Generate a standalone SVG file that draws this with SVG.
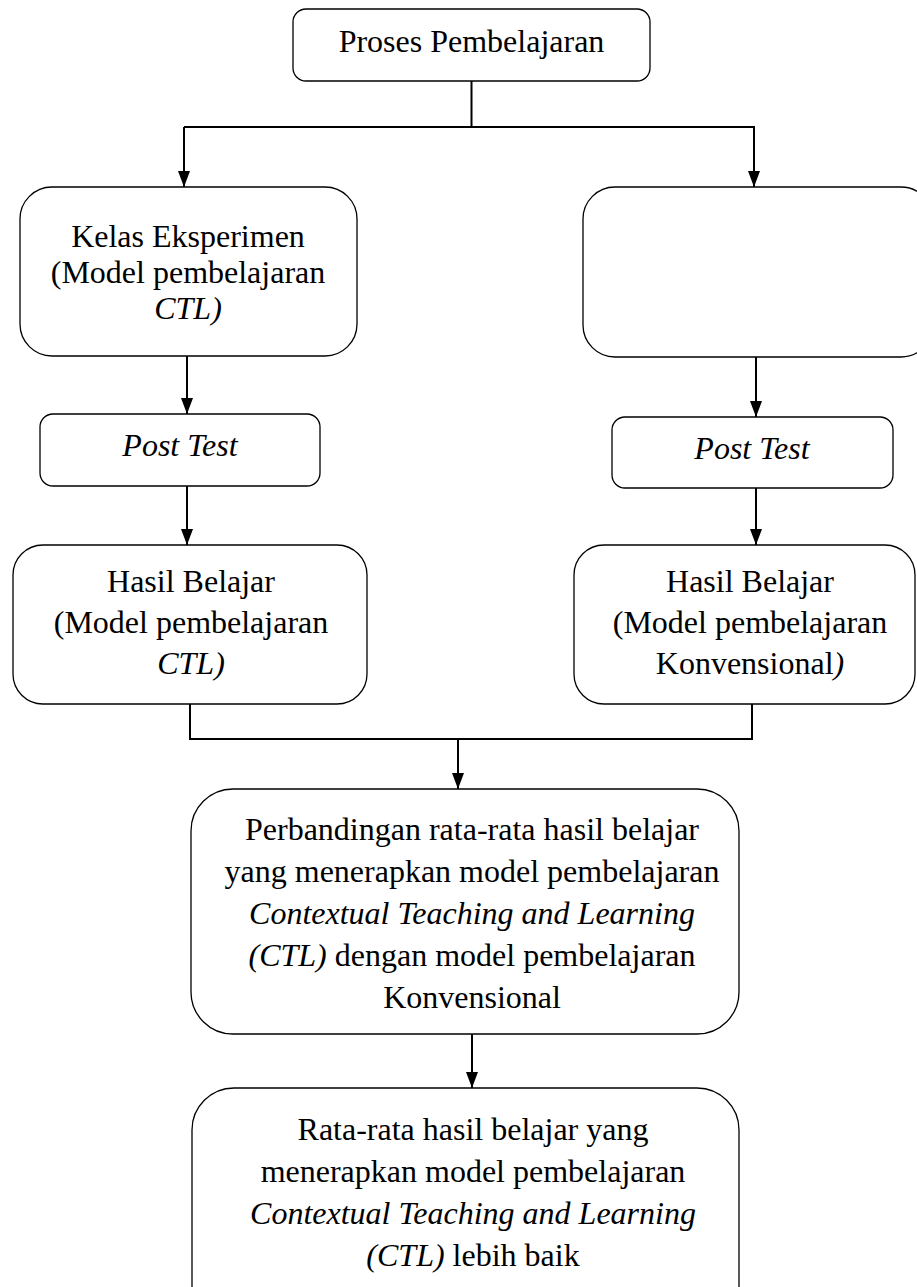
<svg xmlns="http://www.w3.org/2000/svg" width="917" height="1287" viewBox="0 0 917 1287">
<style>
.box{fill:#fff;stroke:#000;stroke-width:1.3}
.t{font-family:"Liberation Serif","Times New Roman",serif;font-size:32px;fill:#000;text-anchor:middle}
.i{font-style:italic}
.c{fill:none;stroke:#000;stroke-width:2}
</style>
<defs>
<marker id="ah" markerUnits="userSpaceOnUse" markerWidth="16" markerHeight="12" viewBox="0 0 16 12" refX="16" refY="6" orient="auto">
<path d="M0,0 L16,6 L0,12 z" fill="#000"/>
</marker>
</defs>
<rect width="917" height="1287" fill="#fff"/>
<g id="connectors">
<path class="c" d="M471.5,81 V127 M184,127 H755"/>
<path class="c" d="M184,127 V187" marker-end="url(#ah)"/>
<path class="c" d="M754,127 V187" marker-end="url(#ah)"/>
<path class="c" d="M187,356 V414" marker-end="url(#ah)"/>
<path class="c" d="M756,357 V417" marker-end="url(#ah)"/>
<path class="c" d="M187,486 V545" marker-end="url(#ah)"/>
<path class="c" d="M756,488 V545" marker-end="url(#ah)"/>
<path class="c" d="M190,704 V739 H752 V704"/>
<path class="c" d="M458,739 V789" marker-end="url(#ah)"/>
<path class="c" d="M472,1034 V1088" marker-end="url(#ah)"/>
</g>
<g id="proses">
<rect class="box" x="293" y="9" width="357" height="72" rx="13"/>
<text class="t" x="471.5" y="52">Proses Pembelajaran</text>
</g>
<g id="kelas-eksperimen">
<rect class="box" x="20" y="187" width="337" height="169" rx="32"/>
<text class="t" x="188" y="247">Kelas Eksperimen</text>
<text class="t" x="188" y="283">(Model pembelajaran</text>
<text class="t i" x="188" y="319">CTL)</text>
</g>
<g id="kelas-kontrol">
<rect class="box" x="583" y="187" width="350" height="170" rx="32"/>
</g>
<g id="posttest-kiri">
<rect class="box" x="40" y="414" width="280" height="72" rx="13"/>
<text class="t i" x="180" y="456">Post Test</text>
</g>
<g id="posttest-kanan">
<rect class="box" x="612" y="417" width="281" height="71" rx="13"/>
<text class="t i" x="752" y="459">Post Test</text>
</g>
<g id="hasil-kiri">
<rect class="box" x="13" y="545" width="354" height="159" rx="30"/>
<text class="t" x="191" y="592">Hasil Belajar</text>
<text class="t" x="191" y="633">(Model pembelajaran</text>
<text class="t i" x="191" y="674">CTL)</text>
</g>
<g id="hasil-kanan">
<rect class="box" x="574" y="545" width="341" height="159" rx="30"/>
<text class="t" x="750" y="592">Hasil Belajar</text>
<text class="t" x="750" y="633">(Model pembelajaran</text>
<text class="t" x="750" y="674">Konvensional<tspan class="i">)</tspan></text>
</g>
<g id="perbandingan">
<rect class="box" x="191" y="789" width="548" height="245" rx="42"/>
<text class="t" x="472" y="840">Perbandingan rata-rata hasil belajar</text>
<text class="t" x="472" y="882">yang menerapkan model pembelajaran</text>
<text class="t i" x="472" y="924">Contextual Teaching and Learning</text>
<text class="t" x="472" y="966"><tspan class="i">(CTL)</tspan> dengan model pembelajaran</text>
<text class="t" x="472" y="1008">Konvensional</text>
</g>
<g id="kesimpulan">
<rect class="box" x="192" y="1088" width="547" height="240" rx="42"/>
<text class="t" x="473" y="1140">Rata-rata hasil belajar yang</text>
<text class="t" x="473" y="1182">menerapkan model pembelajaran</text>
<text class="t i" x="473" y="1224">Contextual Teaching and Learning</text>
<text class="t" x="473" y="1266"><tspan class="i">(CTL)</tspan> lebih baik</text>
</g>
</svg>
